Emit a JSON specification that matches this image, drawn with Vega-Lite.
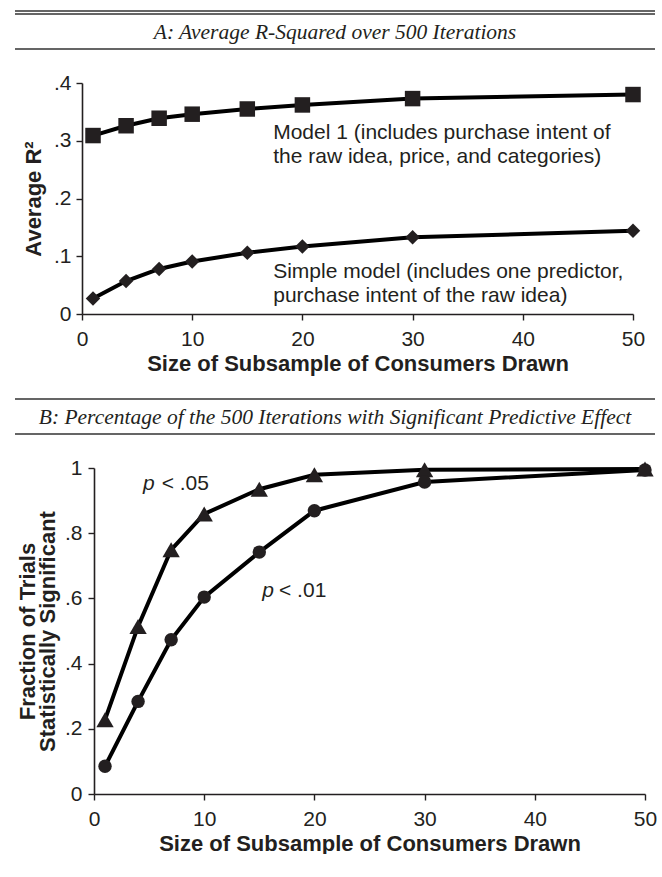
{
  "$schema": "https://vega.github.io/schema/vega-lite/v6.json",
  "background": "white",
  "padding": {"left": 14, "top": 10, "right": 0, "bottom": 0},
  "spacing": 0,
  "resolve": {"scale": {"shape": "independent", "size": "independent"}},
  "config": {
    "view": {"stroke": null},
    "font": "Liberation Sans",
    "axis": {
      "grid": false,
      "domainColor": "#231f20",
      "domainWidth": 1.6,
      "tickColor": "#231f20",
      "tickWidth": 1.4,
      "tickSize": 6,
      "labelFont": "Liberation Sans",
      "labelFontSize": 21,
      "labelColor": "#231f20",
      "titleFont": "Liberation Sans",
      "titleFontSize": 22,
      "titleFontWeight": "bold",
      "titleColor": "#231f20",
      "labelFlush": false,
      "labelOverlap": false
    },
    "axisX": {"labelPadding": 8, "titlePadding": 4},
    "axisY": {"labelPadding": 5}
  },
  "vconcat": [
    {
      "width": 640,
      "height": 1,
      "data": {"values": []},
      "mark": "point",
      "view": {"stroke": "#333333", "strokeWidth": 1.5, "strokeDash": [640, 5000]}
    },
    {
      "width": 640,
      "height": 35,
      "data": {"values": [{"label": "A: Average R-Squared over 500 Iterations"}]},
      "mark": {"type": "text", "font": "Liberation Serif", "fontStyle": "italic", "fontSize": 21.5, "color": "#231f20", "dy": 1},
      "encoding": {"text": {"field": "label"}},
      "view": {"stroke": "#333333", "strokeWidth": 1.5, "strokeDash": [640, 35]}
    },
    {"width": 1, "height": 22, "data": {"values": []}, "mark": "point"},
    {
      "spacing": 0,
      "resolve": {"scale": {"shape": "independent", "size": "independent"}},
      "hconcat": [
        {"width": 7, "height": 1, "data": {"values": []}, "mark": "point"},
        {
          "width": 551,
          "height": 231,
          "layer": [
            {
              "data": {"name": "panelA"},
              "mark": {"type": "line", "color": "black", "strokeWidth": 4},
              "encoding": {
                "x": {
                  "field": "n", "type": "quantitative",
                  "scale": {"domain": [0, 50], "nice": false},
                  "axis": {"values": [0, 10, 20, 30, 40, 50], "title": "Size of Subsample of Consumers Drawn"}
                },
                "y": {
                  "field": "r2", "type": "quantitative",
                  "scale": {"domain": [0, 0.4], "nice": false},
                  "axis": {
                    "values": [0, 0.1, 0.2, 0.3, 0.4],
                    "labelExpr": "datum.value == 0 ? '0' : datum.value == 1 ? '1' : substring(format(datum.value, '.1f'), 1)",
                    "title": "Average R²",
                    "titlePadding": 8
                  }
                },
                "detail": {"field": "model"}
              }
            },
            {
              "data": {"name": "panelA"},
              "mark": {"type": "point", "filled": true, "opacity": 1, "color": "#231f20", "strokeWidth": 0},
              "encoding": {
                "x": {"field": "n", "type": "quantitative"},
                "y": {"field": "r2", "type": "quantitative"},
                "shape": {"field": "model", "scale": {"domain": ["Model 1", "Simple model"], "range": ["square", "diamond"]}, "legend": null},
                "size": {"field": "model", "scale": {"domain": ["Model 1", "Simple model"], "range": [240, 210]}, "legend": null}
              }
            },
            {
              "data": {"values": [{"label": ["Model 1 (includes purchase intent of", "the raw idea, price, and categories)"]}]},
              "mark": {"type": "text", "align": "left", "baseline": "alphabetic", "fontSize": 21, "lineHeight": 24, "color": "#231f20"},
              "encoding": {"x": {"datum": 17.35}, "y": {"datum": 0.3034}, "text": {"field": "label"}}
            },
            {
              "data": {"values": [{"label": ["Simple model (includes one predictor,", "purchase intent of the raw idea)"]}]},
              "mark": {"type": "text", "align": "left", "baseline": "alphabetic", "fontSize": 21, "lineHeight": 24, "color": "#231f20"},
              "encoding": {"x": {"datum": 17.35}, "y": {"datum": 0.0624}, "text": {"field": "label"}}
            }
          ]
        }
      ]
    },
    {"width": 1, "height": 24, "data": {"values": []}, "mark": "point"},
    {
      "width": 640,
      "height": 35,
      "data": {"values": [{"label": "B: Percentage of the 500 Iterations with Significant Predictive Effect"}]},
      "mark": {"type": "text", "font": "Liberation Serif", "fontStyle": "italic", "fontSize": 21.5, "color": "#231f20", "dy": 1},
      "encoding": {"text": {"field": "label"}},
      "view": {"stroke": "#333333", "strokeWidth": 1.5, "strokeDash": [640, 35]}
    },
    {"width": 1, "height": 22, "data": {"values": []}, "mark": "point"},
    {
      "spacing": 0,
      "resolve": {"scale": {"shape": "independent", "size": "independent"}},
      "hconcat": [
        {"width": 1, "height": 1, "data": {"values": []}, "mark": "point"},
        {
          "width": 551,
          "height": 326,
          "layer": [
            {
              "data": {"name": "panelB"},
              "mark": {"type": "line", "color": "black", "strokeWidth": 4},
              "encoding": {
                "x": {
                  "field": "n", "type": "quantitative",
                  "scale": {"domain": [0, 50], "nice": false},
                  "axis": {"values": [0, 10, 20, 30, 40, 50], "title": "Size of Subsample of Consumers Drawn"}
                },
                "y": {
                  "field": "frac", "type": "quantitative",
                  "scale": {"domain": [0, 1], "nice": false},
                  "axis": {
                    "values": [0, 0.2, 0.4, 0.6, 0.8, 1],
                    "labelExpr": "datum.value == 0 ? '0' : datum.value == 1 ? '1' : substring(format(datum.value, '.1f'), 1)",
                    "labelPadding": 6,
                    "title": ["Fraction of Trials", "Statistically Significant"],
                    "titleLineHeight": 20,
                    "titlePadding": 5
                  }
                },
                "detail": {"field": "p"}
              }
            },
            {
              "data": {"name": "panelB"},
              "mark": {"type": "point", "filled": true, "opacity": 1, "color": "#231f20", "strokeWidth": 0},
              "encoding": {
                "x": {"field": "n", "type": "quantitative"},
                "y": {"field": "frac", "type": "quantitative"},
                "shape": {"field": "p", "scale": {"domain": ["p < .05", "p < .01"], "range": ["triangle-up", "circle"]}, "legend": null},
                "size": {"field": "p", "scale": {"domain": ["p < .05", "p < .01"], "range": [300, 180]}, "legend": null}
              }
            },
            {
              "data": {"values": [{"label": "p"}]},
              "mark": {"type": "text", "align": "left", "baseline": "alphabetic", "fontSize": 21, "fontStyle": "italic", "color": "#231f20"},
              "encoding": {"x": {"datum": 4.45}, "y": {"datum": 0.9325}, "text": {"field": "label"}}
            },
            {
              "data": {"values": [{"label": "< .05"}]},
              "mark": {"type": "text", "align": "left", "baseline": "alphabetic", "fontSize": 21, "color": "#231f20"},
              "encoding": {"x": {"datum": 6.14}, "y": {"datum": 0.9325}, "text": {"field": "label"}}
            },
            {
              "data": {"values": [{"label": "p"}]},
              "mark": {"type": "text", "align": "left", "baseline": "alphabetic", "fontSize": 21, "fontStyle": "italic", "color": "#231f20"},
              "encoding": {"x": {"datum": 15.27}, "y": {"datum": 0.6034}, "text": {"field": "label"}}
            },
            {
              "data": {"values": [{"label": "< .01"}]},
              "mark": {"type": "text", "align": "left", "baseline": "alphabetic", "fontSize": 21, "color": "#231f20"},
              "encoding": {"x": {"datum": 16.79}, "y": {"datum": 0.6034}, "text": {"field": "label"}}
            }
          ]
        }
      ]
    }
  ],
  "datasets": {
    "panelA": [
      {"n": 1, "r2": 0.309, "model": "Model 1"},
      {"n": 4, "r2": 0.326, "model": "Model 1"},
      {"n": 7, "r2": 0.339, "model": "Model 1"},
      {"n": 10, "r2": 0.346, "model": "Model 1"},
      {"n": 15, "r2": 0.355, "model": "Model 1"},
      {"n": 20, "r2": 0.362, "model": "Model 1"},
      {"n": 30, "r2": 0.373, "model": "Model 1"},
      {"n": 50, "r2": 0.380, "model": "Model 1"},
      {"n": 1, "r2": 0.027, "model": "Simple model"},
      {"n": 4, "r2": 0.057, "model": "Simple model"},
      {"n": 7, "r2": 0.078, "model": "Simple model"},
      {"n": 10, "r2": 0.091, "model": "Simple model"},
      {"n": 15, "r2": 0.106, "model": "Simple model"},
      {"n": 20, "r2": 0.117, "model": "Simple model"},
      {"n": 30, "r2": 0.133, "model": "Simple model"},
      {"n": 50, "r2": 0.144, "model": "Simple model"}
    ],
    "panelB": [
      {"n": 1, "frac": 0.228, "p": "p < .05"},
      {"n": 4, "frac": 0.514, "p": "p < .05"},
      {"n": 7, "frac": 0.749, "p": "p < .05"},
      {"n": 10, "frac": 0.859, "p": "p < .05"},
      {"n": 15, "frac": 0.935, "p": "p < .05"},
      {"n": 20, "frac": 0.979, "p": "p < .05"},
      {"n": 30, "frac": 0.995, "p": "p < .05"},
      {"n": 50, "frac": 0.997, "p": "p < .05"},
      {"n": 1, "frac": 0.085, "p": "p < .01"},
      {"n": 4, "frac": 0.284, "p": "p < .01"},
      {"n": 7, "frac": 0.473, "p": "p < .01"},
      {"n": 10, "frac": 0.604, "p": "p < .01"},
      {"n": 15, "frac": 0.742, "p": "p < .01"},
      {"n": 20, "frac": 0.869, "p": "p < .01"},
      {"n": 30, "frac": 0.957, "p": "p < .01"},
      {"n": 50, "frac": 0.994, "p": "p < .01"}
    ]
  }
}
